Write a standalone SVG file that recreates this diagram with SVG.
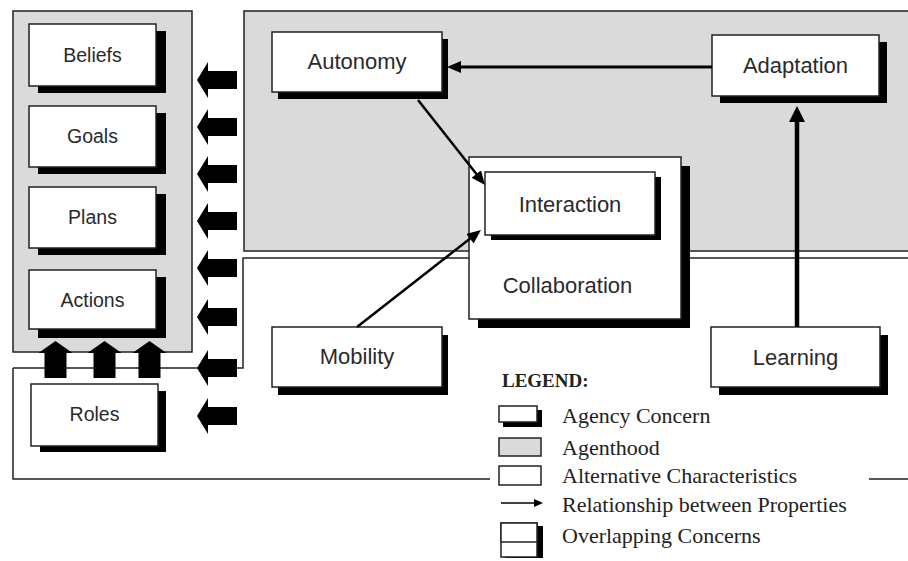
<svg xmlns="http://www.w3.org/2000/svg" width="908" height="561" viewBox="0 0 908 561">
  <style>
    .panel { fill: #dadada; stroke: #222; stroke-width: 1.5; }
    .frame { fill: none; stroke: #222; stroke-width: 1.5; }
    .box { fill: #fff; stroke: #222; stroke-width: 1.5; }
    .shadow { fill: #000; }
    .lbl { font-family: "Liberation Sans", Arial, sans-serif; fill: #2a2a2a; text-anchor: middle; }
    .lbl-s { font-size: 19.5px; }
    .lbl-l { font-size: 22px; }
    .leg { font-family: "Liberation Serif", "Times New Roman", serif; font-size: 22px; fill: #222; }
    .block { fill: #000; }
    .rel { fill: none; stroke: #000; }
  </style>
  <defs>
    <marker id="headM" markerUnits="userSpaceOnUse" markerWidth="16" markerHeight="14" refX="4" refY="6" orient="auto">
      <path d="M0,0 L14,6 L0,12 z" fill="#000"/>
    </marker>
    <marker id="headL" markerUnits="userSpaceOnUse" markerWidth="18" markerHeight="18" refX="4" refY="8" orient="auto">
      <path d="M0,0 L16,8 L0,16 z" fill="#000"/>
    </marker>
    <marker id="headS" markerUnits="userSpaceOnUse" markerWidth="10" markerHeight="10" refX="2" refY="4" orient="auto">
      <path d="M0,0 L9,4 L0,8 z" fill="#000"/>
    </marker>
    <!-- block arrow pointing left, tip at origin -->
    <path id="blockLeft" d="M0,0 L11,-18 L11,-9 L40,-9 L40,9 L11,9 L11,18 z"/>
    <!-- block arrow pointing up, tip at origin -->
    <path id="blockUp" d="M0,0 L17,12 L11,12 L11,37 L-11,37 L-11,12 L-17,12 z"/>
  </defs>

  <rect width="908" height="561" fill="#fff"/>

  <!-- regions -->
  <g id="regions">
    <rect class="panel" x="13" y="11" width="179" height="341"/>
    <rect class="panel" x="244" y="11" width="680" height="240"/>
    <path class="frame" d="M13,368 L243,368 L243,258 L924,258"/>
    <path class="frame" d="M13,368 L13,479 L490,479 M869,479 L924,479"/>
  </g>

  <!-- agenthood concerns -->
  <g id="beliefs">
    <rect class="shadow" x="38" y="31" width="128" height="62"/>
    <rect class="box" x="29" y="24" width="127" height="62"/>
    <text class="lbl lbl-s" x="92.5" y="62">Beliefs</text>
  </g>
  <g id="goals">
    <rect class="shadow" x="38" y="113" width="128" height="61"/>
    <rect class="box" x="29" y="106" width="127" height="61"/>
    <text class="lbl lbl-s" x="92.5" y="143">Goals</text>
  </g>
  <g id="plans">
    <rect class="shadow" x="38" y="194" width="128" height="61"/>
    <rect class="box" x="29" y="187" width="127" height="61"/>
    <text class="lbl lbl-s" x="92.5" y="224">Plans</text>
  </g>
  <g id="actions">
    <rect class="shadow" x="38" y="277" width="128" height="61"/>
    <rect class="box" x="29" y="270" width="127" height="59"/>
    <text class="lbl lbl-s" x="92.5" y="307">Actions</text>
  </g>
  <g id="roles">
    <rect class="shadow" x="40" y="391" width="126" height="61"/>
    <rect class="box" x="31" y="384" width="127" height="62"/>
    <text class="lbl lbl-s" x="94.5" y="421">Roles</text>
  </g>

  <!-- block arrows into the agenthood -->
  <g id="feeds" class="block">
    <use href="#blockLeft" x="197" y="80"/>
    <use href="#blockLeft" x="197" y="127"/>
    <use href="#blockLeft" x="197" y="174"/>
    <use href="#blockLeft" x="197" y="221"/>
    <use href="#blockLeft" x="197" y="268"/>
    <use href="#blockLeft" x="197" y="317"/>
    <use href="#blockLeft" x="197" y="368"/>
    <use href="#blockLeft" x="197" y="416"/>
    <use href="#blockUp" x="55.5" y="341"/>
    <use href="#blockUp" x="104.5" y="341"/>
    <use href="#blockUp" x="149.5" y="341"/>
  </g>

  <!-- agency concerns -->
  <g id="autonomy">
    <rect class="shadow" x="278" y="39" width="170" height="60"/>
    <rect class="box" x="272" y="32" width="170" height="60"/>
    <text class="lbl lbl-l" x="357" y="69">Autonomy</text>
  </g>
  <g id="adaptation">
    <rect class="shadow" x="720" y="42" width="167" height="61"/>
    <rect class="box" x="712" y="35" width="167" height="61"/>
    <text class="lbl lbl-l" x="795.5" y="73">Adaptation</text>
  </g>
  <g id="collaboration">
    <rect class="shadow" x="478" y="166" width="212" height="162"/>
    <rect class="box" x="469" y="157" width="212" height="162"/>
    <text class="lbl lbl-l" x="567.5" y="293">Collaboration</text>
  </g>
  <g id="interaction">
    <rect class="shadow" x="491" y="177" width="170" height="63"/>
    <rect class="box" x="485" y="172" width="170" height="63"/>
    <text class="lbl lbl-l" x="570" y="212">Interaction</text>
  </g>
  <g id="mobility">
    <rect class="shadow" x="278" y="335" width="170" height="60"/>
    <rect class="box" x="272" y="327" width="170" height="60"/>
    <text class="lbl lbl-l" x="357" y="364">Mobility</text>
  </g>
  <g id="learning">
    <rect class="shadow" x="719" y="335" width="169" height="60"/>
    <rect class="box" x="711" y="327" width="169" height="60"/>
    <text class="lbl lbl-l" x="795.5" y="365">Learning</text>
  </g>

  <!-- relationships between properties -->
  <g id="connectors">
    <path class="rel" stroke-width="3" d="M712,67 L457,67" marker-end="url(#headM)"/>
    <path class="rel" stroke-width="2.5" d="M418,100 L478.8,177.1" marker-end="url(#headM)"/>
    <path class="rel" stroke-width="2.5" d="M357,327 L473.1,236.2" marker-end="url(#headM)"/>
    <path class="rel" stroke-width="4.5" d="M797,327 L797,118" marker-end="url(#headL)"/>
  </g>

  <!-- legend -->
  <g id="legend">
    <text x="502" y="387" font-family="'Liberation Serif', 'Times New Roman', serif" font-size="19px" font-weight="bold" fill="#222">LEGEND:</text>
    <rect class="shadow" x="503" y="410" width="39" height="17"/>
    <rect class="box" x="499" y="406" width="38" height="16"/>
    <text class="leg" x="562" y="423">Agency Concern</text>
    <rect class="panel" x="499" y="438" width="42" height="18"/>
    <text class="leg" x="562" y="455">Agenthood</text>
    <rect class="box" x="499" y="466" width="42" height="19"/>
    <text class="leg" x="562" y="483">Alternative Characteristics</text>
    <path class="rel" stroke-width="1.5" d="M501,503 L536,503" marker-end="url(#headS)"/>
    <text class="leg" x="562" y="512">Relationship between Properties</text>
    <rect class="shadow" x="505" y="526" width="38" height="32"/>
    <rect class="box" x="501" y="523" width="36" height="34"/>
    <rect class="box" x="501" y="523" width="36" height="19" stroke-width="2.5"/>
    <text class="leg" x="562" y="543">Overlapping Concerns</text>
  </g>
</svg>
